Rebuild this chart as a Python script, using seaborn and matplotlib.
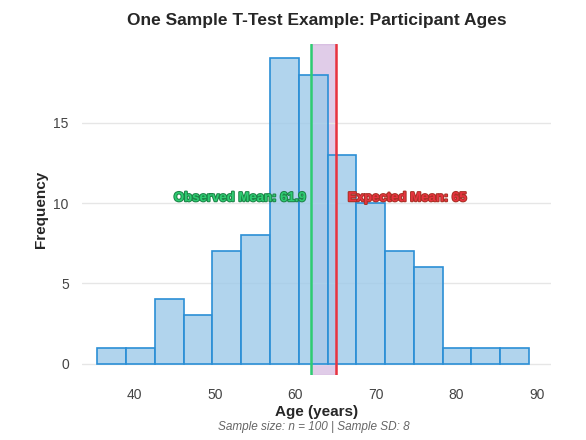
import numpy as np
import pandas as pd
import matplotlib
matplotlib.use("Agg")
import matplotlib.pyplot as plt
import matplotlib.patheffects as pe
import seaborn as sns

bin_edges = [35.4 + i * 3.573 for i in range(16)]
counts = [1, 1, 4, 3, 7, 8, 19, 18, 13, 10, 7, 6, 1, 1, 1]
observed_mean = 61.9
expected_mean = 65
sample_sd = 8

sns.set_theme(style="whitegrid")
plt.rcParams['font.family'] = ['Liberation Sans', 'DejaVu Sans']

centers = [(bin_edges[i] + bin_edges[i + 1]) / 2 for i in range(len(counts))]
df = pd.DataFrame({"age": centers, "w": counts})

fig, ax = plt.subplots(figsize=(5.86, 4.40), dpi=100)
sns.histplot(data=df, x="age", weights="w", bins=bin_edges, ax=ax,
             color="#9ecae9", alpha=0.8, edgecolor="#2b8fd6", linewidth=1.2)
ax.axvspan(observed_mean, expected_mean, color="#c39bd3", alpha=0.5, zorder=0.5)
ax.axvline(observed_mean, color="#2ecc71", lw=1.8)
ax.axvline(expected_mean, color="#e8333f", lw=1.8)
ax.text(observed_mean - 0.6, 10.3, f"Observed Mean: {observed_mean}", color="#2ecc71",
        ha="right", va="center", fontsize=9.5, fontweight="bold",
        path_effects=[pe.withStroke(linewidth=1.5, foreground="#1e8449")])
ax.text(expected_mean + 1.5, 10.3, f"Expected Mean: {expected_mean}", color="#e8333f",
        ha="left", va="center", fontsize=9.5, fontweight="bold",
        path_effects=[pe.withStroke(linewidth=1.5, foreground="#a93226")])

ax.set_xlim(33.5, 91.7)
ax.set_ylim(-0.7, 19.9)
ax.set_xticks([40, 50, 60, 70, 80, 90])
ax.set_yticks([0, 5, 10, 15])
ax.grid(axis="x", visible=False)
ax.grid(axis="y", color="#e6e6e6")
for s in ax.spines.values():
    s.set_visible(False)
ax.tick_params(colors="#444444", labelsize=10)
ax.set_xlabel("Age (years)", fontsize=11, fontweight="bold", labelpad=2)
ax.set_ylabel("Frequency", fontsize=11, fontweight="bold")
ax.set_title("One Sample T-Test Example: Participant Ages", fontsize=12.5, fontweight="bold", pad=14)
fig.text(0.535, 0.022, f"Sample size: n = {sum(counts)} | Sample SD: {sample_sd}",
         ha="center", fontsize=8.5, style="italic", color="#666666")
fig.subplots_adjust(left=0.14, right=0.94, top=0.9, bottom=0.148)
fig.savefig("out.png", dpi=100)
